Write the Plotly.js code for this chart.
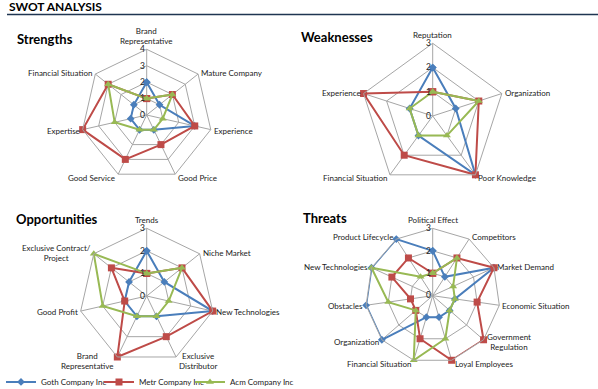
<!DOCTYPE html>
<html>
<head>
<meta charset="utf-8">
<script src="https://cdn.plot.ly/plotly-3.0.1.min.js"></script>
<style>html,body{margin:0;padding:0;background:#fff}#chart{width:598px;height:389px}</style>
</head>
<body>
<div id="chart"></div>
<script>
// ---- data ----
const seriesNames = ["Goth Company Inc", "Metr Company Inc", "Acm Company Inc"];

const strengthsCats = ["Brand<br>Representative", "Mature Company", "Experience", "Good Price", "Good Service", "Expertise", "Financial Situation"];
const strengthsGoth = [2, 1, 3, 1, 1, 1, 1];
const strengthsMetr = [1, 2, 3, 2, 3, 4, 3];
const strengthsAcm  = [1, 2, 1, 1, 1, 2, 3];

const weaknessesCats = ["Reputation", "Organization", "Poor Knowledge", "Financial Situation", "Experience"];
const weaknessesGoth = [2, 1, 3, 1, 1];
const weaknessesMetr = [1, 2, 3, 2, 3];
const weaknessesAcm  = [1, 2, 1, 1, 1];

const opportunitiesCats = ["Trends", "Niche Market", "New Technologies", "Exclusive<br>Distributor", "Brand<br>Representative", "Good Profit", "Exclusive Contract/<br>Project"];
const opportunitiesGoth = [2, 1, 3, 1, 1, 1, 1];
const opportunitiesMetr = [1, 2, 3, 2, 3, 1, 2];
const opportunitiesAcm  = [1, 2, 1, 1, 1, 2, 3];

const threatsCats = ["Political Effect", "Competitors", "Market Demand", "Economic Situation", "Government<br>Regulation", "Loyal Employees", "Financial Situation", "Organization", "Obstacles", "New Technologies", "Product Lifecycle"];
const threatsGoth = [2, 1, 3, 1, 1, 1, 1, 3, 3, 3, 3];
const threatsMetr = [1, 2, 3, 2, 3, 3, 2, 1, 1, 2, 2];
const threatsAcm  = [1, 2, 1, 1, 1, 2, 3, 1, 2, 3, 1];

// ---- styling ----
const W = 598, H = 389;
const FONT = "Lato, 'Open Sans', sans-serif";
const colors = ["#4a7ebb", "#be4b48", "#98b954"];
const symbols = ["diamond", "square", "triangle-up"];
const sizes = [6, 7, 7];
const legendIds = ["legend", "legend2", "legend3"];
const legendLeft = [1, 99, 190];
const px = x => x / W;
const py = y => 1 - y / H;

const panels = [
  { key: "polar",  cats: strengthsCats,     series: [strengthsGoth, strengthsMetr, strengthsAcm],             max: 4, cx: 146.7, cy: 115,   R: 65.7 },
  { key: "polar2", cats: weaknessesCats,    series: [weaknessesGoth, weaknessesMetr, weaknessesAcm],          max: 3, cx: 432.7, cy: 116,   R: 72.7 },
  { key: "polar3", cats: opportunitiesCats, series: [opportunitiesGoth, opportunitiesMetr, opportunitiesAcm], max: 3, cx: 146.7, cy: 296,   R: 67.7 },
  { key: "polar4", cats: threatsCats,       series: [threatsGoth, threatsMetr, threatsAcm],                   max: 3, cx: 432.7, cy: 295.7, R: 67.3 }
];

const titleFont = { family: FONT, size: 13, color: "#000" };
const traces = [];
const layout = {
  width: W, height: H,
  margin: { l: 0, r: 0, t: 0, b: 0, autoexpand: false },
  paper_bgcolor: "#fff",
  font: { family: FONT, size: 8, color: "#222" },
  showlegend: true,
  annotations: [
    { text: "<b>SWOT ANALYSIS</b>", x: px(7), y: py(7), xref: "paper", yref: "paper", xanchor: "left", yanchor: "middle", showarrow: false, font: { family: FONT, size: 12, color: "#000" } },
    { text: "<b>Strengths</b>",     x: px(15),  y: py(39),  xref: "paper", yref: "paper", xanchor: "left", yanchor: "middle", showarrow: false, font: titleFont },
    { text: "<b>Weaknesses</b>",    x: px(299), y: py(37),  xref: "paper", yref: "paper", xanchor: "left", yanchor: "middle", showarrow: false, font: titleFont },
    { text: "<b>Opportunities</b>", x: px(14),  y: py(219), xref: "paper", yref: "paper", xanchor: "left", yanchor: "middle", showarrow: false, font: titleFont },
    { text: "<b>Threats</b>",       x: px(301), y: py(218), xref: "paper", yref: "paper", xanchor: "left", yanchor: "middle", showarrow: false, font: titleFont }
  ],
  shapes: [
    { type: "line", xref: "paper", yref: "paper", x0: px(7), x1: 1, y0: py(14.5), y1: py(14.5), line: { color: "#1f3551", width: 1.5 } }
  ]
};

legendIds.forEach((id, i) => {
  layout[id] = {
    orientation: "h", x: px(legendLeft[i]), y: -0.019, xanchor: "left", yanchor: "bottom",
    font: { family: FONT, size: 8, color: "#222" },
    bgcolor: "rgba(0,0,0,0)"
  };
});

panels.forEach((p, pi) => {
  p.series.forEach((vals, si) => {
    traces.push({
      type: "scatterpolar",
      subplot: p.key,
      r: vals.concat([vals[0]]),
      theta: p.cats.concat([p.cats[0]]),
      mode: "lines+markers",
      name: seriesNames[si],
      legend: legendIds[si],
      legendgroup: seriesNames[si],
      showlegend: pi === 0,
      line: { color: colors[si], width: 2 },
      marker: { color: colors[si], symbol: symbols[si], size: sizes[si] },
      hoverinfo: "skip"
    });
  });
  layout[p.key] = {
    domain: { x: [px(p.cx - p.R), px(p.cx + p.R)], y: [py(p.cy + p.R), py(p.cy - p.R)] },
    gridshape: "linear",
    bgcolor: "rgba(0,0,0,0)",
    angularaxis: {
      type: "category",
      categoryorder: "array", categoryarray: p.cats,
      direction: "clockwise", rotation: 90,
      showline: true, linecolor: "#a6a6a6", linewidth: 1,
      gridcolor: "#a6a6a6", gridwidth: 1,
      ticks: "", showticklabels: false
    },
    radialaxis: {
      range: [0, p.max], dtick: 1, tick0: 0,
      angle: 90, side: "counterclockwise", tickangle: 90,
      showline: false, gridcolor: "#a6a6a6", gridwidth: 1,
      ticks: "", tickfont: { family: FONT, size: 8.5, color: "#222" }
    }
  };
  // category labels placed just outside each spoke end, Excel-style
  const n = p.cats.length;
  p.cats.forEach((cat, i) => {
    const t = 2 * Math.PI * i / n;
    const s = Math.sin(t), c = Math.cos(t);
    const vx = p.cx + p.R * s, vy = p.cy - p.R * c;
    let a;
    if (Math.abs(s) < 0.2) {
      a = c > 0 ? { x: vx, y: vy - 2, xanchor: "center", yanchor: "bottom" }
                : { x: vx, y: vy + 2, xanchor: "center", yanchor: "top" };
    } else {
      a = { x: vx + (s > 0 ? 2 : -2), y: vy - (c < 0 ? 4 : 2) * c,
            xanchor: s > 0 ? "left" : "right", yanchor: "middle" };
    }
    layout.annotations.push({
      text: cat, x: px(a.x), y: py(a.y), xref: "paper", yref: "paper",
      xanchor: a.xanchor, yanchor: a.yanchor, align: "center", showarrow: false,
      borderpad: 0, font: { family: FONT, size: 8, color: "#222" }
    });
  });
});

Plotly.newPlot("chart", traces, layout, { staticPlot: true, displayModeBar: false });
</script>
</body>
</html>
